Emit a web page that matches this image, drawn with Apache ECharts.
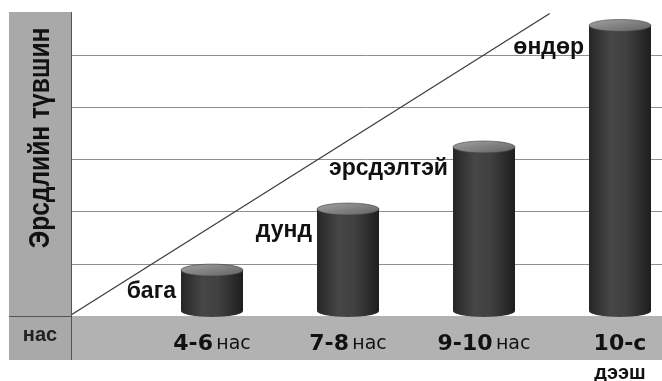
<!DOCTYPE html>
<html>
<head>
<meta charset="utf-8">
<script src="https://cdn.jsdelivr.net/npm/echarts@6/dist/echarts.min.js"></script>
<style>
html,body{margin:0;padding:0;background:#fff;}
#chart{width:662px;height:381px;}
</style>
</head>
<body>
<div id="chart"></div>
<script>
// ---- data ----
var categories = ['4-6 нас', '7-8 нас', '9-10 нас', '10-с дээш'];
var riskValues = [0.88, 2.05, 3.24, 5.57];
var riskLabels = ['бага', 'дунд', 'эрсдэлтэй', 'өндөр'];
var yTicks = [0, 1, 2, 3, 4, 5, 6];
var trendX = [0, 81];
var trendY = [0.02, 5.8];
var yAxisTitle = 'Эрсдлийн түвшин';
var xAxisTitle = 'нас';

var chart = echarts.init(document.getElementById('chart'), null, {renderer: 'canvas'});

var bodyGrad = new echarts.graphic.LinearGradient(0, 0, 1, 0, [
  {offset: 0, color: '#262626'},
  {offset: 0.35, color: '#464646'},
  {offset: 0.6, color: '#414141'},
  {offset: 1, color: '#1e1e1e'}
]);
var topGrad = new echarts.graphic.LinearGradient(0, 0, 1, 1, [
  {offset: 0, color: '#a2a2a2'},
  {offset: 1, color: '#616161'}
]);

var option = {
  backgroundColor: '#ffffff',
  animation: false,
  grid: [
    {left: 71, width: 591, top: 3, bottom: 65, outerBoundsMode: 'none'},
    {left: 144, width: 544, top: 3, bottom: 65, outerBoundsMode: 'none'}
  ],
  xAxis: [
    {type: 'value', gridIndex: 0, min: 0, max: 100, show: false},
    {
      type: 'category', gridIndex: 1, data: categories, z: 10,
      axisLine: {show: false}, axisTick: {show: false},
      axisLabel: {
        margin: 14, interval: 0,
        formatter: function (v) {
          var parts = v.split(' ');
          if (parts[1] === 'дээш') return '{b|' + parts[0] + '}\n{b2|' + parts[1] + '}';
          return '{b|' + parts[0] + '} {n|' + parts[1] + '}';
        },
        rich: {
          b: {fontFamily: 'DejaVu Sans', fontWeight: 'bold', fontSize: 22, color: '#111', lineHeight: 29},
          b2: {fontFamily: 'Liberation Sans', fontWeight: 'bold', fontSize: 20, color: '#111', lineHeight: 29},
          n: {fontFamily: 'DejaVu Sans', fontSize: 19, color: '#111', lineHeight: 29}
        }
      }
    }
  ],
  yAxis: [
    {
      type: 'value', gridIndex: 0, min: yTicks[0], max: yTicks[yTicks.length - 1], interval: 1,
      axisLine: {show: false}, axisTick: {show: false}, axisLabel: {show: false},
      splitLine: {show: true, lineStyle: {color: ['#555', '#8e8e8e', '#8e8e8e', '#8e8e8e', '#8e8e8e', '#8e8e8e', 'rgba(0,0,0,0)'], width: 1}}
    },
    {
      type: 'value', gridIndex: 1, min: yTicks[0], max: yTicks[yTicks.length - 1], interval: 1, show: false
    }
  ],
  graphic: [
    {type: 'rect', z: 1, shape: {x: 9, y: 12, width: 62, height: 348}, style: {fill: '#a9a9a9'}},
    {type: 'rect', z: 1, shape: {x: 71, y: 316, width: 591, height: 44}, style: {fill: '#b2b2b2'}},
    {type: 'line', z: 6, shape: {x1: 71.5, y1: 12, x2: 71.5, y2: 360}, style: {stroke: '#555', lineWidth: 1}},
    {type: 'line', z: 6, shape: {x1: 9, y1: 316.5, x2: 71, y2: 316.5}, style: {stroke: '#555', lineWidth: 1}},
    {
      type: 'text', z: 7, x: 41, y: 138, rotation: Math.PI / 2, scaleX: 0.82,
      style: {text: yAxisTitle, font: 'bold 30px "Liberation Sans"', fill: '#111', align: 'center', verticalAlign: 'middle'}
    },
    {
      type: 'text', z: 7, x: 40, y: 335,
      style: {text: xAxisTitle, font: 'bold 20px "Liberation Sans"', fill: '#222', align: 'center', verticalAlign: 'middle'}
    }
  ],
  series: [
    {
      type: 'line', xAxisIndex: 0, yAxisIndex: 0, z: 4,
      data: trendX.map(function (x, i) { return [x, trendY[i]]; }),
      symbol: 'none', lineStyle: {color: '#3a3a3a', width: 1.2}
    },
    {
      type: 'custom', xAxisIndex: 1, yAxisIndex: 1, z: 5,
      data: riskValues.map(function (v, i) { return [i, v]; }),
      renderItem: function (params, api) {
        var top = api.coord([api.value(0), api.value(1)]);
        var base = api.coord([api.value(0), 0]);
        var w = 62, half = w / 2, ry = 6;
        var cx = top[0];
        var bodyBottom = base[1] - 5;
        return {
          type: 'group',
          children: [
            {type: 'rect', shape: {x: cx - half, y: top[1], width: w, height: bodyBottom - top[1]}, style: {fill: bodyGrad}},
            {type: 'circle', shape: {cx: 0, cy: 0, r: half}, x: cx, y: bodyBottom, scaleY: ry / half, style: {fill: bodyGrad}},
            {type: 'circle', shape: {cx: 0, cy: 0, r: half}, x: cx, y: top[1], scaleY: ry / half,
              style: {fill: topGrad, stroke: '#3c3c3c', lineWidth: 1, strokeNoScale: true}},
            {type: 'text', x: cx - half - 5, y: top[1] + 22,
              style: {text: riskLabels[params.dataIndex], font: 'bold 23px "Liberation Sans"', fill: '#111', align: 'right', verticalAlign: 'middle'}}
          ]
        };
      }
    }
  ]
};
chart.setOption(option);
</script>
</body>
</html>
